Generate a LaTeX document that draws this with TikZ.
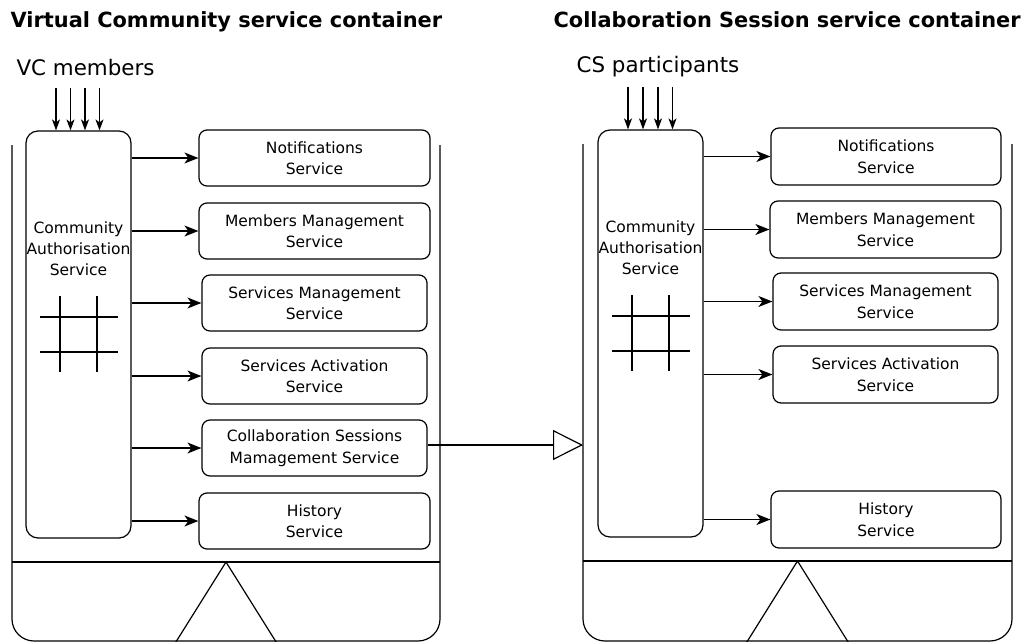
\documentclass[tikz,border=0pt]{standalone}
\usepackage{fontspec}
\setmainfont{DejaVu Sans}
\usetikzlibrary{arrows.meta}
\begin{document}
\begin{tikzpicture}[x=1pt,y=-1pt,
  line width=1.2pt,
  svc/.style={draw, rounded corners=8pt, align=center, inner sep=0pt,
    font=\fontsize{15.5}{21.5}\selectfont},
  cabox/.style={draw, rounded corners=12pt, minimum width=105pt, minimum height=407pt, inner sep=0pt},
  catext/.style={align=center, inner sep=0pt, font=\fontsize{15.5}{21}\selectfont},
  title/.style={anchor=base west, inner sep=0pt, font=\fontsize{20.9}{24}\selectfont\bfseries},
  lab/.style={anchor=base west, inner sep=0pt, font=\fontsize{21.4}{24}\selectfont},
  callarrow/.style={-{Stealth[length=14pt,width=11pt,inset=4pt]}},
  inarrow/.style={-{Stealth[length=11pt,width=8pt,inset=3pt]}},
  bigarrow/.style={-{Triangle[open,length=30pt,width=30pt,fill=white]}},
  container/.style={draw, rounded corners=22pt},
]
\useasboundingbox (0,0) rectangle (1023,642);

% ---------- Left container ----------
\node[title] (t1) at (10,28) {Virtual Community service container};
\node[lab] (vc) at (16,75) {VC members};
\draw[container] (12,145) -- (12,641) -- (440,641) -- (440,145);
\draw (12,562) -- (440,562);
\draw (174,645) -- (226,562) -- (278,645);

\node[cabox] (cas1) at (78.5,334.5) {};
\node[catext] (cat1) at (78.5,249) {Community\\Authorisation\\Service};
\draw (60,296) -- (60,372) (97,296) -- (97,372)
      (40,317) -- (118,317) (40,352) -- (118,352);
\foreach \x in {56,70.5,85,99.5} \draw[inarrow] (\x,88) -- (cas1.north -| \x,0);

\node[svc, minimum width=231pt, minimum height=56pt] (ln) at (314.5,158) {Notifications\\Service};
\node[svc, minimum width=231pt, minimum height=56pt] (lm) at (314.5,231) {Members Management\\Service};
\node[svc, minimum width=225pt, minimum height=56pt] (ls) at (314.5,303) {Services Management\\Service};
\node[svc, minimum width=225pt, minimum height=56pt] (la) at (314.5,376) {Services Activation\\Service};
\node[svc, minimum width=225pt, minimum height=56pt] (lc) at (314.5,448) {Collaboration Sessions\\Mamagement Service};
\node[svc, minimum width=231pt, minimum height=56pt] (lh) at (314.5,521) {History\\Service};
\foreach \b in {ln,lm,ls,la,lc,lh} \draw[callarrow] (cas1.east |- \b.west) -- (\b.west);

% ---------- Right container ----------
\node[title] (t2) at (553,28) {Collaboration Session service container};
\node[lab] (cs) at (576,73) {CS participants};
\draw[container] (583,144) -- (583,641) -- (1012,641) -- (1012,144);
\draw (583,561) -- (1012,561);
\draw (745,645) -- (797.5,561) -- (850,645);

\node[cabox] (cas2) at (650.5,333.5) {};
\node[catext] (cat2) at (650.5,248) {Community\\Authorisation\\Service};
\draw (632,295) -- (632,371) (669,295) -- (669,371)
      (612,316) -- (690,316) (612,351) -- (690,351);
\foreach \x in {628,643,658,672.5} \draw[inarrow] (\x,87) -- (cas2.north -| \x,0);

\node[svc, minimum width=230pt, minimum height=57pt] (rn) at (886,156.5) {Notifications\\Service};
\node[svc, minimum width=231pt, minimum height=57pt] (rm) at (885.5,229.5) {Members Management\\Service};
\node[svc, minimum width=225pt, minimum height=57pt] (rs) at (885.5,301.5) {Services Management\\Service};
\node[svc, minimum width=225pt, minimum height=57pt] (ra) at (885.5,374.5) {Services Activation\\Service};
\node[svc, minimum width=230pt, minimum height=57pt] (rh) at (886,519.5) {History\\Service};
\foreach \b in {rn,rm,rs,ra,rh} \draw[callarrow] (cas2.east |- \b.west) -- (\b.west);

% ---------- Link between containers ----------
\coordinate (rin) at (583,445);
\draw[bigarrow] (lc.east |- rin) -- (rin);
\end{tikzpicture}
\end{document}
